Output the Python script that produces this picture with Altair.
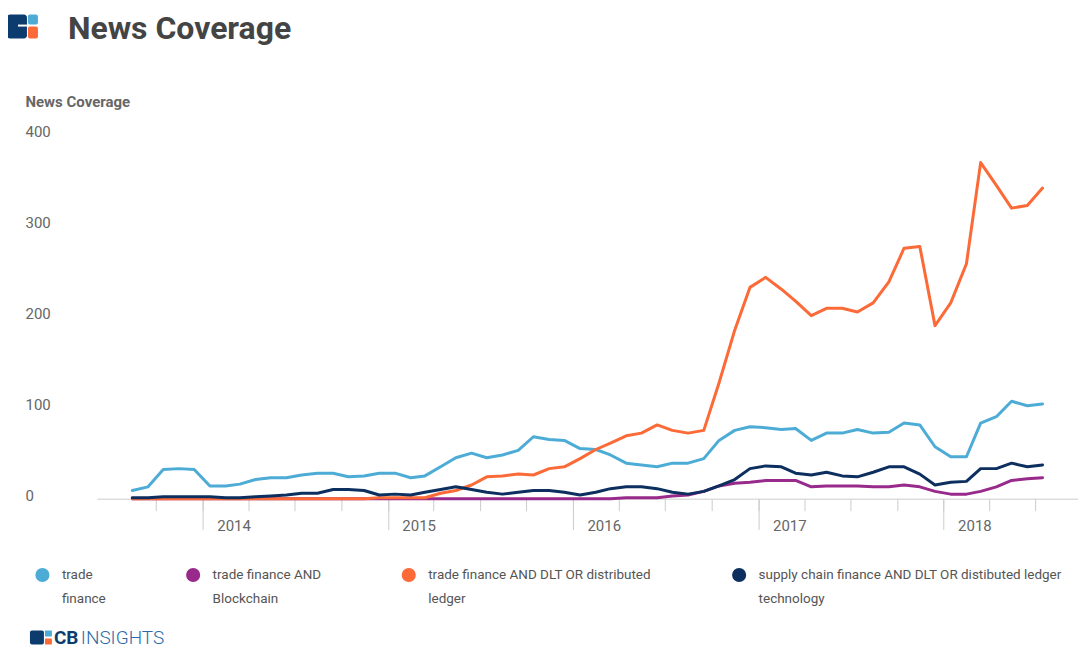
import altair as alt
import pandas as pd

# ---------------- data ----------------
series = [
    "trade\nfinance",
    "trade finance AND\nBlockchain",
    "trade finance AND DLT OR distributed\nledger",
    "supply chain finance AND DLT OR distibuted ledger\ntechnology",
]
colors = ["#4dacd6", "#982a8b", "#fb6a37", "#0c2f5f"]

# monthly points, Aug 2013 .. Jul 2018 (60 months)
dates = []
for k in range(60):
    m = 7 + k
    dates.append(f"{2013 + m // 12}-{m % 12 + 1:02d}-15")

trade_finance = [9, 13, 32, 33, 32, 14, 14, 16, 21, 23,
                 23, 26, 28, 28, 24, 25, 28, 28, 23, 25,
                 35, 45, 50, 45, 48, 53, 68, 65, 64, 55,
                 54, 48, 39, 37, 35, 39, 39, 44, 64, 75,
                 79, 78, 76, 77, 64, 72, 72, 76, 72, 73,
                 83, 81, 57, 46, 46, 83, 90, 107, 102, 104]
blockchain = [0, 0, 0, 0, 0, 0, 0, 0, 0, 0,
              0, 0, 0, 0, 0, 0, 0, 0, 0, 0,
              0, 0, 0, 0, 0, 0, 0, 0, 0, 0,
              0, 0, 1, 1, 1, 3, 4, 8, 14, 17,
              18, 20, 20, 20, 13, 14, 14, 14, 13, 13,
              15, 13, 8, 5, 5, 8, 13, 20, 22, 23]
dlt = [0, 0, 0, 0, 0, 0, 0, 0, 0, 0,
       0, 0, 0, 0, 0, 0, 1, 1, 1, 1,
       6, 9, 15, 24, 25, 27, 26, 33, 35, 44,
       54, 61, 69, 72, 81, 75, 72, 75, 127, 185,
       232, 243, 230, 217, 201, 209, 209, 205, 215, 238,
       275, 277, 190, 215, 258, 369, 344, 319, 322, 341]
supply_chain = [1, 1, 2, 2, 2, 2, 1, 1, 2, 3,
                4, 6, 6, 10, 10, 9, 4, 5, 4, 7,
                10, 13, 10, 7, 5, 7, 9, 9, 7, 4,
                7, 11, 13, 13, 11, 7, 5, 8, 14, 21,
                33, 36, 35, 28, 26, 29, 25, 24, 29, 35,
                35, 27, 15, 18, 19, 33, 33, 39, 35, 37]

y_ticks = [0, 100, 200, 300, 400]
year_ticks = [2014, 2015, 2016, 2017, 2018]
quarter_ticks = [(2013, 10)] + [(y, m) for y in range(2014, 2019) for m in (1, 4, 7, 10) if (y, m) <= (2018, 7)]

rows = []
for name, vals in zip(series, [trade_finance, blockchain, dlt, supply_chain]):
    for d, v in zip(dates, vals):
        rows.append({"date": d, "value": v, "series": name})
df = pd.DataFrame(rows)

# ---------------- chart ----------------
FONT = "Roboto"
x_scale = alt.Scale(domain=[alt.DateTime(year=2013, month=6, date=6),
                            alt.DateTime(year=2018, month=9, date=23)])
color_scale = alt.Scale(domain=series, range=colors)

quarter_axis = alt.Axis(
    orient="bottom", values=[alt.DateTime(year=y, month=m, date=1) for y, m in quarter_ticks],
    labels=False, grid=False, title=None, tickSize=12, tickColor="#cccccc",
    domainColor="#cccccc", domainWidth=1)
year_axis = alt.Axis(
    orient="bottom", values=[alt.DateTime(year=y, month=1, date=1) for y in year_ticks],
    format="%Y", grid=False, title=None, domain=False, tickSize=31, tickColor="#cccccc",
    labelAlign="left", labelOffset=14, labelPadding=-11, labelBaseline="top",
    labelFontSize=15, labelColor="#666666", labelFont=FONT)
y_axis = alt.Axis(
    values=y_ticks, domain=False, ticks=False, tickSize=0, grid=False,
    labelAlign="left", labelPadding=72, labelOffset=-3, labelFontSize=15,
    labelColor="#666666", labelFont=FONT,
    title="News Coverage", titleAngle=0, titleX=-72, titleY=-33, titleAlign="left",
    titleBaseline="middle", titleFontSize=15, titleFontWeight="bold",
    titleColor="#666666", titleFont=FONT)

base = alt.Chart(df)
lines = base.mark_line(strokeWidth=3, strokeJoin="round", strokeCap="round").encode(
    x=alt.X("date:T", scale=x_scale, axis=quarter_axis),
    y=alt.Y("value:Q", scale=alt.Scale(domain=[0, 400], nice=False), axis=y_axis),
    color=alt.Color("series:N", scale=color_scale, legend=None, sort=series),
)

legend_layer = base.transform_filter("false").mark_circle(opacity=1).encode(
    x=alt.X("date:T", scale=x_scale, axis=year_axis),
    color=alt.Color("series:N", scale=color_scale, sort=series, legend=alt.Legend(
        orient="none", legendX=-62, legendY=434, direction="horizontal", columns=4,
        columnPadding=80, title=None, symbolType="circle", symbolSize=200,
        symbolStrokeWidth=0, labelFontSize=13.5, labelColor="#555555", labelFont=FONT,
        labelExpr="split(datum.label, '\\n')", labelOffset=12, padding=0, labelLimit=500)),
)

deco = alt.Data(values=[{"k": 0}])


def box(x1, x2, y1, y2, color, r=0):
    return alt.Chart(deco).mark_rect(color=color, cornerRadius=r).encode(
        x=alt.value(x1), x2=alt.value(x2), y=alt.value(y1), y2=alt.value(y2))


def label(text, x, y, size, color, weight="normal"):
    return alt.Chart(deco).mark_text(
        text=text, font=FONT, fontSize=size, fontWeight=weight, color=color,
        align="left", baseline="alphabetic").encode(x=alt.value(x), y=alt.value(y))


decorations = [
    # top-left logo
    box(-90, -70, -120, -96, "#0c3c6e", 3),
    box(-79, -70, -110, -108, "white"),
    box(-69, -59, -120, -110, "#4dacd6", 2),
    box(-69, -59, -108, -96, "#fb6a37", 2),
    label("News Coverage", -29, -96, 32, "#444444", "bold"),
    # bottom logo
    box(-67, -53, 497, 511, "#0c3c6e", 2),
    box(-52, -45, 497, 503, "#4dacd6", 1),
    box(-52, -45, 505, 511, "#fb6a37", 1),
    label("CB", -43, 511, 19, "#0c3c6e", "bold"),
    label("INSIGHTS", -16, 511, 19, "#2a6aa8", 300),
]

chart = alt.layer(legend_layer, lines, *decorations).resolve_axis(
    x="independent"
).properties(
    width=983, height=365,
    autosize=alt.AutoSizeParams(type="none"),
    padding={"left": 89, "top": 126, "right": 0, "bottom": 151},
).configure(
    font=FONT,
    style={"guide-label": {"lineHeight": 24}},
).configure_view(stroke=None)

chart.save("out.html", embed_options={"renderer": "svg", "actions": False})
